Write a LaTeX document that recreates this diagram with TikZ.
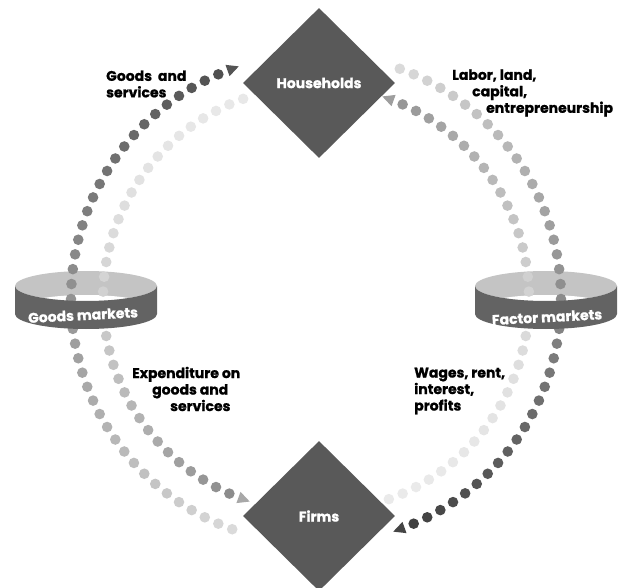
\documentclass[tikz,border=0pt]{standalone}
\usepackage{fontspec}
\setmainfont{Poppins}[BoldFeatures={FakeBold=1}]
\usetikzlibrary{shapes.geometric}
\definecolor{boxgray}{HTML}{595959}
\definecolor{wallgray}{HTML}{636363}
\definecolor{rimgray}{HTML}{C4C4C4}
\tikzset{
  agent/.style={diamond,fill=boxgray,minimum width=152pt,minimum height=150pt,
    inner sep=0,text=white,font=\bfseries\fontsize{14}{16}\selectfont},
  lbl/.style={anchor=west,align=left,inner sep=0,font=\bfseries\fontsize{14}{16.5}\selectfont},
  mkt/.style={text=white,inner sep=0,rotate=3,font=\bfseries\fontsize{14}{16}\selectfont},
  rim/.style={fill=rimgray},
  wall/.style={fill=wallgray}
}

\begin{document}
\begin{tikzpicture}[x=1pt,y=1pt]
    \useasboundingbox (0,0) rectangle (623,587);
    \coordinate (C) at (316,288);
    \coordinate (gmk) at (86,301);
    \coordinate (fmk) at (546,301);

    % tops of the two market bands
    \fill[rim] (gmk) ellipse[x radius=71,y radius=15];
    \begin{scope}
      \clip (gmk) ellipse[x radius=71,y radius=15];
      \fill[white] ([yshift=-24]gmk) ellipse[x radius=71,y radius=15];
    \end{scope}
    \fill[rim] (fmk) ellipse[x radius=71,y radius=15];
    \begin{scope}
      \clip (fmk) ellipse[x radius=71,y radius=15];
      \fill[white] ([yshift=-24]fmk) ellipse[x radius=71,y radius=15];
    \end{scope}

    % outer left: firms -> goods markets -> households
    \foreach \i in {0,...,39}{
      \pgfmathsetmacro\g{(218-138*\i/39)/255}
      \definecolor{dotc}{gray}{\g}
      \fill[dotc,shift={(C)}] ({250-3.5*\i}:245) circle[radius=5.3];
    }
    \fill[black!67,shift={(C)},rotate=110] (245,-7) -- (239,5) -- (251,5) -- cycle;

    % inner left: households -> goods markets -> firms
    \foreach \i in {0,...,34}{
      \pgfmathsetmacro\g{(232-92*(\i/34)^2)/255}
      \definecolor{dotc}{gray}{\g}
      \fill[dotc,shift={(C)}] ({110+4*\i}:213) circle[radius=5.3];
    }
    \fill[black!34,shift={(C)},rotate=250] (213,7) -- (207,-5) -- (219,-5) -- cycle;

    % outer right: households -> factor markets -> firms
    \foreach \i in {0,...,39}{
      \pgfmathsetmacro\g{(218-154*\i/39)/255}
      \definecolor{dotc}{gray}{\g}
      \fill[dotc,shift={(C)}] ({70-3.5*\i}:245) circle[radius=5.3];
    }
    \fill[black!73,shift={(C)},rotate=-70] (245,-7) -- (239,5) -- (251,5) -- cycle;

    % inner right: firms -> factor markets -> households
    \foreach \i in {0,...,34}{
      \pgfmathsetmacro\g{(234-84*(\i/34)^2)/255}
      \definecolor{dotc}{gray}{\g}
      \fill[dotc,shift={(C)}] ({-70+4*\i}:213) circle[radius=5.3];
    }
    \fill[black!38,shift={(C)},rotate=70] (213,7) -- (207,-5) -- (219,-5) -- cycle;

    % fronts of the bands
    \fill[wall] ([xshift=-71]gmk) arc[start angle=180,end angle=360,x radius=71,y radius=15]
      -- ++(0,-28) arc[start angle=0,end angle=-180,x radius=71,y radius=15] -- cycle;
    \fill[wall] ([xshift=-71]fmk) arc[start angle=180,end angle=360,x radius=71,y radius=15]
      -- ++(0,-28) arc[start angle=0,end angle=-180,x radius=71,y radius=15] -- cycle;
    \node[mkt] (gm) at (83,272) {Goods markets};
    \node[mkt] (fm) at (547,270) {Factor markets};

    \node[agent] (hh) at (319,504) {Households};
    \node[agent] (firms) at (319,71) {Firms};

    \node[lbl] (gs) at (106,503) {Goods \ and\\services};
    \node[lbl] (lab) at (452,494) {Labor, land,\\\hspace*{20pt}capital,\\\hspace*{34pt}entrepreneurship};
    \node[lbl] (exp) at (132,198) {Expenditure on\\\hspace*{20pt}goods and\\\hspace*{38pt}services};
    \node[lbl] (wag) at (414,196) {Wages, rent,\\interest,\\profits};
\end{tikzpicture}
\end{document}
